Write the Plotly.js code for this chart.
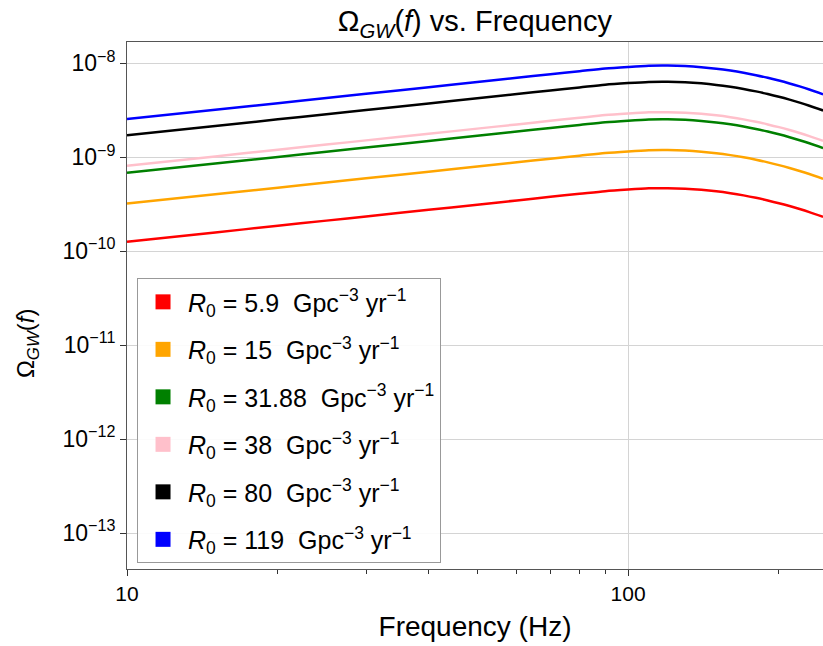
<!DOCTYPE html>
<html>
<head>
<meta charset="utf-8">
<script src="https://cdn.plot.ly/plotly-3.0.1.min.js"></script>
<style>html,body{margin:0;padding:0;background:#fff;}#plot{width:823px;height:646px;}</style>
</head>
<body>
<div id="plot"></div>
<script>
// Frequencies (Hz)
const freq = [10,15,20,25,30,40,50,60,70,80,90,100,110,120,130,140,150,160,170,180,190,200,210,220,230,245];

// Omega_GW(f) for each local rate R0
const omega_5_9 = [1.26e-10,1.58e-10,1.86e-10,2.11e-10,2.34e-10,2.75e-10,3.12e-10,3.46e-10,3.78e-10,4.07e-10,4.345e-10,4.52e-10,4.65e-10,4.67e-10,4.614e-10,4.493e-10,4.326e-10,4.130e-10,3.915e-10,3.690e-10,3.460e-10,3.235e-10,3.014e-10,2.802e-10,2.598e-10,2.313e-10];
const omega_15 = [3.203e-10,4.017e-10,4.729e-10,5.364e-10,5.949e-10,6.992e-10,7.932e-10,8.797e-10,9.610e-10,1.0347e-9,1.1047e-9,1.1492e-9,1.1822e-9,1.1873e-9,1.1731e-9,1.1423e-9,1.0998e-9,1.0500e-9,9.954e-10,9.381e-10,8.797e-10,8.225e-10,7.663e-10,7.124e-10,6.605e-10,5.881e-10];
const omega_31_88 = [6.808e-10,8.537e-10,1.0050e-9,1.1401e-9,1.2644e-9,1.4859e-9,1.6859e-9,1.8696e-9,2.0425e-9,2.1992e-9,2.3478e-9,2.4423e-9,2.5126e-9,2.5234e-9,2.4931e-9,2.4278e-9,2.3375e-9,2.2316e-9,2.1154e-9,1.9939e-9,1.8696e-9,1.7480e-9,1.6286e-9,1.5140e-9,1.4038e-9,1.2498e-9];
const omega_38 = [8.115e-10,1.0176e-9,1.1980e-9,1.3590e-9,1.5071e-9,1.7712e-9,2.0095e-9,2.2285e-9,2.4346e-9,2.6214e-9,2.7985e-9,2.9112e-9,2.9949e-9,3.0078e-9,2.9717e-9,2.8938e-9,2.7862e-9,2.6600e-9,2.5215e-9,2.3766e-9,2.2285e-9,2.0836e-9,1.9412e-9,1.8047e-9,1.6733e-9,1.4897e-9];
const omega_80 = [1.7085e-9,2.1424e-9,2.5220e-9,2.8610e-9,3.1729e-9,3.7288e-9,4.2305e-9,4.6915e-9,5.1254e-9,5.5186e-9,5.8915e-9,6.1288e-9,6.3051e-9,6.3322e-9,6.2563e-9,6.0922e-9,5.8658e-9,5.6000e-9,5.3085e-9,5.0034e-9,4.6915e-9,4.3864e-9,4.0868e-9,3.7993e-9,3.5227e-9,3.1363e-9];
const omega_119 = [2.5414e-9,3.1868e-9,3.7515e-9,4.2558e-9,4.7197e-9,5.5466e-9,6.2929e-9,6.9786e-9,7.6241e-9,8.2090e-9,8.7637e-9,9.1166e-9,9.3788e-9,9.4192e-9,9.3062e-9,9.0622e-9,8.7253e-9,8.3300e-9,7.8964e-9,7.4425e-9,6.9786e-9,6.5248e-9,6.0791e-9,5.6515e-9,5.2400e-9,4.6652e-9];

const R0Labels = ["5.9", "15", "31.88", "38", "80", "119"];
const SP = "&nbsp;";
const seriesNames = R0Labels.map(r =>
  "<i>R</i><sub>0</sub>" + SP + "=" + SP + r + SP + SP + "Gpc<sup>−3</sup>" + SP + "yr<sup>−1</sup>");
const seriesColors = ["red","orange","green","pink","black","blue"];
const seriesValues = [omega_5_9, omega_15, omega_31_88, omega_38, omega_80, omega_119];

const xTickVals = [10, 100];
const xTickText = ["10", "100"];
const yTickVals = [1e-13, 1e-12, 1e-11, 1e-10, 1e-9, 1e-8];
const yTickText = ["10<sup>−13</sup>", "10<sup>−12</sup>", "10<sup>−11</sup>", "10<sup>−10</sup>", "10<sup>−9</sup>", "10<sup>−8</sup>"];

const FONT = "Liberation Sans, Arial, Helvetica, sans-serif";

// minor tick positions for the x log axis (axis decoration, not data)
const xMinor = [];
for (let k = 2; k <= 9; k++) xMinor.push(k * 10);
xMinor.push(200);

const traces = [];
seriesValues.forEach((vals, i) => {
  traces.push({
    x: freq, y: vals, type: "scatter", mode: "lines",
    line: {color: seriesColors[i], width: 2.5, shape: "spline", smoothing: 0.8},
    name: seriesNames[i], showlegend: false, legendgroup: "g" + i, hoverinfo: "skip"
  });
});
seriesValues.forEach((vals, i) => {
  traces.push({
    x: [null], y: [null], type: "scatter", mode: "markers",
    marker: {color: seriesColors[i], size: 15, symbol: "square", line: {width: 0}},
    name: seriesNames[i], showlegend: true, legendgroup: "g" + i
  });
});

const yRange = [-13.383, -7.775];

const layout = {
  width: 823, height: 646,
  margin: {l: 127, r: 0, t: 42, b: 77, pad: 0},
  paper_bgcolor: "#fff", plot_bgcolor: "#fff",
  font: {family: FONT, size: 20, color: "#000"},
  title: {
    text: "Ω<sub><i>GW</i></sub>(<i>f</i>) vs. Frequency",
    font: {family: FONT, size: 29, color: "#000"},
    x: 0.577, xanchor: "center", xref: "container",
    y: 0.967, yanchor: "middle", yref: "container"
  },
  xaxis: {
    type: "log", range: [1, 2.389],
    tickvals: xTickVals, ticktext: xTickText,
    ticks: "outside", ticklen: 6, tickwidth: 1, tickcolor: "#333",
    showgrid: true, gridcolor: "#d4d4d4", gridwidth: 1,
    showline: true, linecolor: "#555", linewidth: 1, mirror: true,
    zeroline: false,
    tickfont: {family: FONT, size: 21, color: "#000"},
    minor: {tickvals: xMinor, ticks: "outside", ticklen: 4, tickwidth: 1, tickcolor: "#333", showgrid: false},
    title: {text: "Frequency (Hz)", font: {family: FONT, size: 28, color: "#000"}, standoff: 12}
  },
  yaxis: {
    type: "log", range: yRange,
    tickvals: yTickVals, ticktext: yTickText,
    ticks: "outside", ticklen: 6, tickwidth: 1, tickcolor: "#333",
    showgrid: true, gridcolor: "#d4d4d4", gridwidth: 1,
    showline: true, linecolor: "#555", linewidth: 1, mirror: true,
    zeroline: false,
    tickfont: {family: FONT, size: 23, color: "#000"}
  },
  legend: {
    x: 0.0144, y: 0.552, xanchor: "left", yanchor: "top",
    bgcolor: "rgba(255,255,255,0.9)", bordercolor: "#999", borderwidth: 1,
    font: {family: FONT, size: 25, color: "#000"},
    traceorder: "grouped", tracegroupgap: 12, itemwidth: 40
  },
  annotations: [{
    text: "Ω<sub><i>GW</i></sub>(<i>f</i>)",
    xref: "paper", yref: "paper",
    x: -0.142, y: 0.429, xanchor: "center", yanchor: "middle",
    textangle: -90, showarrow: false,
    font: {family: FONT, size: 24, color: "#000"}
  }]
};

Plotly.newPlot("plot", traces, layout, {displayModeBar: false, staticPlot: true});
</script>
</body>
</html>
